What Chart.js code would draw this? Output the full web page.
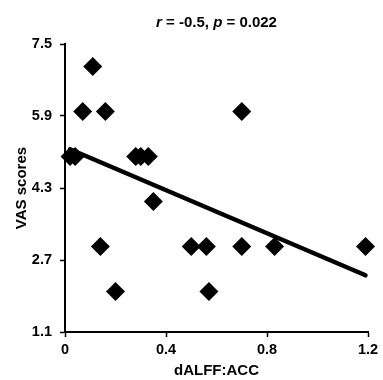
<!DOCTYPE html>
<html><head><meta charset="utf-8">
<script src="https://cdn.jsdelivr.net/npm/chart.js@4/dist/chart.umd.min.js"></script>
<style>
html,body{margin:0;padding:0;background:#fff;}
#wrap{position:relative;width:383px;height:380px;}
#title{position:absolute;left:65px;width:303px;top:13px;text-align:center;font:bold 15px "Liberation Sans",Arial,sans-serif;line-height:18px;color:#000;white-space:nowrap;}
</style></head><body>
<div id="wrap"><canvas id="c" width="383" height="380"></canvas><div id="title"><i>r</i> = -0.5, <i>p</i> = 0.022</div></div>
<script>
const dalff = [0.02, 0.04, 0.11, 0.07, 0.16, 0.28, 0.30, 0.33, 0.35, 0.14, 0.50, 0.56, 0.70, 0.83, 1.19, 0.20, 0.57, 0.70];
const vas   = [5.0,  5.0,  7.0,  6.0,  6.0,  5.0,  5.0,  5.0,  4.0,  3.0,  3.0,  3.0,  3.0,  3.0,  3.0,  2.0,  2.0,  6.0];
const fitX = [0.02, 1.19];
const fitY = [5.16, 2.36];
const xTicks = [0, 0.4, 0.8, 1.2];
const xTickLabels = ['0', '0.4', '0.8', '1.2'];
const yTicks = [1.1, 2.7, 4.3, 5.9, 7.5];
const yTickLabels = ['1.1', '2.7', '4.3', '5.9', '7.5'];
const xTitle = 'dALFF:ACC';
const yTitle = 'VAS scores';

const FONT = '"Liberation Sans", Arial, sans-serif';
const pts = dalff.map((x, i) => ({x: x, y: vas[i]}));
const fit = fitX.map((x, i) => ({x: x, y: fitY[i]}));

new Chart(document.getElementById('c'), {
  type: 'scatter',
  data: {
    datasets: [
      {data: pts, pointStyle: 'rectRot', pointRadius: 9.5, pointHoverRadius: 9.5, clip: false,
       backgroundColor: '#000', borderColor: '#000', borderWidth: 0, order: 2},
      {data: fit, showLine: true, pointRadius: 0, borderColor: '#000', borderWidth: 4.5, clip: false,
       borderCapStyle: 'round', order: 1}
    ]
  },
  options: {
    responsive: false,
    animation: false,
    events: [],
    plugins: {legend: {display: false}, tooltip: {enabled: false}, title: {display: false}},
    layout: {padding: {top: 44, right: 15, bottom: 0, left: 0}},
    scales: {
      x: {
        type: 'linear', min: 0, max: 1.2,
        afterBuildTicks: s => { s.ticks = xTicks.map(v => ({value: v})); },
        afterFit: s => { s.height = 48; },
        grid: {display: true, drawOnChartArea: false, drawTicks: true, tickLength: 5, tickColor: '#000', tickWidth: 1.5},
        border: {display: true, color: '#000', width: 2},
        ticks: {color: '#000', padding: 4, font: {family: FONT, size: 14.5, weight: 'bold'},
                maxRotation: 0, autoSkip: false,
                callback: (v, i) => xTickLabels[i]},
        title: {display: true, text: xTitle, color: '#000', padding: {top: 0, bottom: 0},
                font: {family: FONT, size: 15, weight: 'bold'}}
      },
      y: {
        type: 'linear', min: 1.1, max: 7.5,
        afterBuildTicks: s => { s.ticks = yTicks.map(v => ({value: v})); },
        afterFit: s => { s.width = 65; },
        grid: {display: true, drawOnChartArea: false, drawTicks: true, tickLength: 5, tickColor: '#000', tickWidth: 1.5},
        border: {display: true, color: '#000', width: 2},
        ticks: {color: '#000', padding: 8, font: {family: FONT, size: 14.5, weight: 'bold'},
                autoSkip: false,
                callback: (v, i) => yTickLabels[i]},
        title: {display: true, text: yTitle, color: '#000', padding: {top: 13, bottom: 0},
                font: {family: FONT, size: 15, weight: 'bold'}}
      }
    }
  }
});
</script>
</body></html>
